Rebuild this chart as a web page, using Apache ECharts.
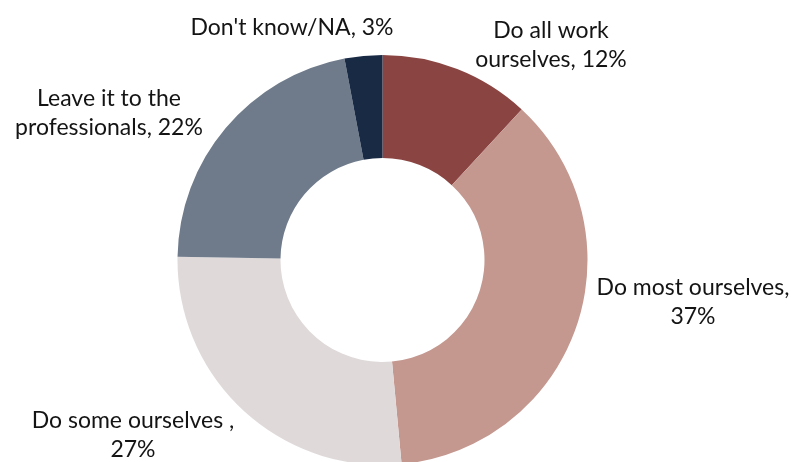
<!DOCTYPE html>
<html>
<head>
<meta charset="utf-8">
<title>Home improvement approach</title>
<script src="https://cdn.jsdelivr.net/npm/echarts@6/dist/echarts.min.js"></script>
<style>
  html, body { margin: 0; padding: 0; background: #ffffff; }
  #chart { width: 794px; height: 462px; }
</style>
</head>
<body>
<div id="chart"></div>
<script>
// Survey answers, clockwise from twelve o'clock
const categories = [
  'Do all work\nourselves',
  'Do most ourselves',
  'Do some ourselves',
  'Leave it to the\nprofessionals',
  "Don't know/NA"
];
const shares = [12, 37, 27, 22, 3];
// text placed between the answer and its percentage
const separators = [', ', ',\n', ' ,\n', ', ', ', '];

const sliceColors = ['#8a4542', '#c4978f', '#dfdad9', '#6f7b8b', '#192a45'];
// label centres (px) for each slice
const labelSpots = [[551, 45], [693, 302], [133, 435], [109, 113], [292, 28]];

const chart = echarts.init(document.getElementById('chart'), null, { renderer: 'canvas' });

chart.setOption({
  animation: false,
  color: sliceColors,
  series: [{
    type: 'pie',
    center: [382.5, 260],
    radius: [102, 205],
    startAngle: 90,
    clockwise: true,
    avoidLabelOverlap: false,
    itemStyle: { borderWidth: 0 },
    label: {
      show: true,
      position: 'outside',
      fontFamily: 'Lato, "Open Sans", sans-serif',
      fontSize: 23,
      lineHeight: 29,
      color: '#141414',
      align: 'center',
      formatter: p => p.name + separators[p.dataIndex] + p.value + '%'
    },
    labelLine: { show: false },
    labelLayout: p => ({
      x: labelSpots[p.dataIndex][0],
      y: labelSpots[p.dataIndex][1],
      align: 'center',
      verticalAlign: 'middle'
    }),
    data: categories.map((name, i) => ({ name, value: shares[i] }))
  }]
});
</script>
</body>
</html>
